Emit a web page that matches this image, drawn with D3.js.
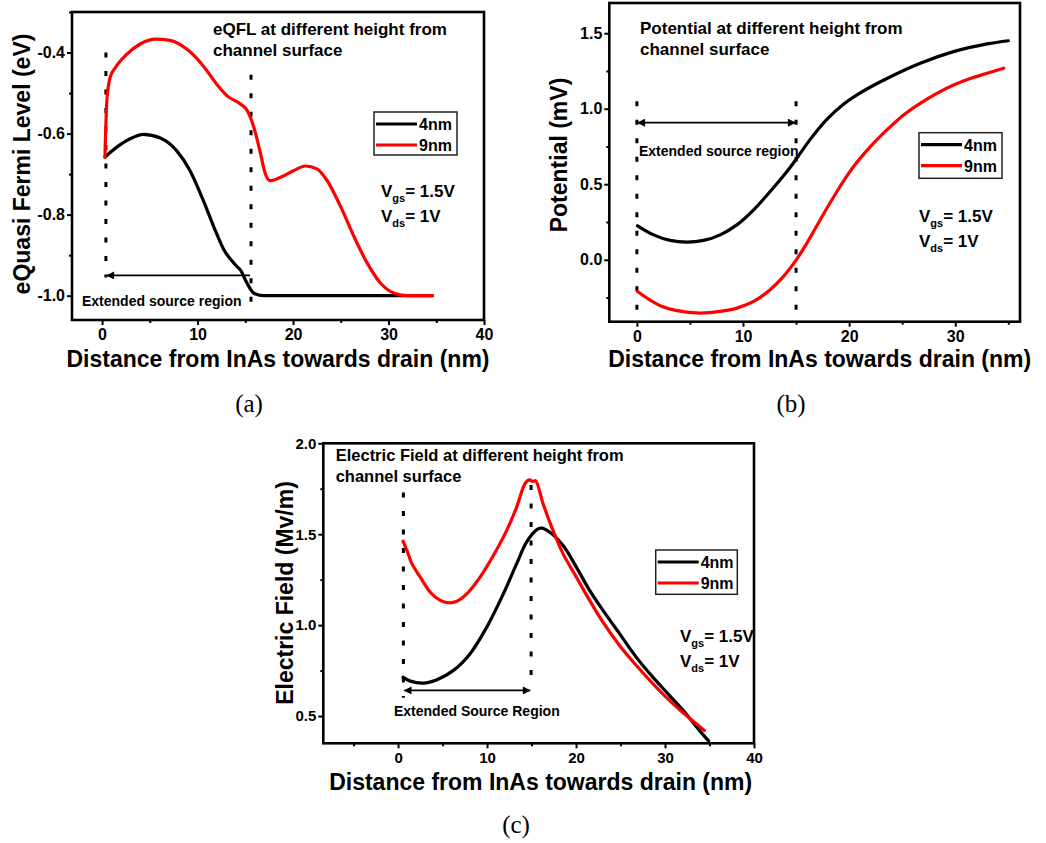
<!DOCTYPE html>
<html><head><meta charset="utf-8">
<script src="https://cdn.jsdelivr.net/npm/d3@7"></script>
<style>
body{margin:0;background:#fff;}
svg text{font-family:"Liberation Sans",Arial,sans-serif;font-weight:bold;fill:#000;}
</style></head><body>
<svg id="fig" width="1046" height="843"></svg>
<script>
// ---------- data ----------
const seriesNames = ["4nm", "9nm"];
const seriesColors = ["#000000", "#ff0000"];

// (a) eQuasi Fermi Level (eV) vs distance (nm)
const eqfl4nm = [[0.3,-0.658],[1.5,-0.634],[3.3,-0.609],[4.3,-0.602],[6.1,-0.611],[7.8,-0.642],[9.2,-0.691],[10.6,-0.765],[11.7,-0.83],[12.7,-0.884],[14.0,-0.925],[14.5,-0.937],[15.2,-0.970],[15.9,-0.994],[16.9,-1.0],[20,-1.0],[25,-1.0],[30,-1.0],[34.6,-1.0]];
const eqfl9nm = [[0.3,-0.658],[0.5,-0.519],[0.85,-0.461],[1.4,-0.437],[2.6,-0.404],[4.0,-0.379],[5.6,-0.367],[7.1,-0.370],[8.9,-0.392],[10.6,-0.433],[12.0,-0.478],[13.1,-0.507],[14.5,-0.527],[15.2,-0.543],[15.9,-0.585],[16.6,-0.65],[17.1,-0.699],[17.6,-0.716],[18.7,-0.708],[20.1,-0.691],[21.3,-0.680],[22.5,-0.687],[23.6,-0.717],[25.0,-0.781],[26.4,-0.855],[27.8,-0.921],[29.2,-0.970],[30.6,-0.994],[32.0,-1.0],[34.6,-1.0]];

// (b) Potential (mV)
const pot4nm = [[0.06,0.225],[1.57,0.165],[3.14,0.128],[4.71,0.117],[6.28,0.128],[7.85,0.165],[9.42,0.231],[11.0,0.331],[12.56,0.452],[14.14,0.584],[15.08,0.673],[16.33,0.797],[17.9,0.93],[19.47,1.03],[21.05,1.105],[23.56,1.20],[26.7,1.301],[29.84,1.378],[33.0,1.429],[35.0,1.45]];
const pot9nm = [[0.06,-0.21],[0.94,-0.253],[2.2,-0.304],[3.77,-0.337],[5.97,-0.353],[7.85,-0.342],[9.42,-0.32],[11.0,-0.276],[12.56,-0.198],[13.82,-0.11],[14.92,-0.011],[16.02,0.11],[17.28,0.265],[18.85,0.452],[20.42,0.617],[22.0,0.749],[23.56,0.86],[25.13,0.959],[26.7,1.036],[28.27,1.102],[29.84,1.157],[31.41,1.20],[33.0,1.235],[34.56,1.268]];

// (c) Electric Field (Mv/m)
const field4nm = [[0.56,0.714],[1.38,0.692],[2.87,0.681],[4.37,0.70],[6.23,0.751],[8.1,0.843],[9.97,0.989],[11.83,1.172],[13.32,1.337],[14.44,1.456],[15.56,1.524],[16.12,1.533],[17.05,1.511],[18.55,1.438],[20.04,1.319],[21.53,1.191],[23.03,1.081],[24.89,0.953],[26.76,0.824],[28.63,0.714],[30.49,0.614],[32.36,0.513],[33.86,0.421],[34.9,0.363]];
const field9nm = [[0.56,1.462],[1.0,1.41],[1.57,1.337],[2.5,1.264],[3.62,1.181],[4.74,1.136],[5.67,1.123],[6.6,1.131],[7.72,1.172],[9.22,1.264],[10.71,1.383],[12.2,1.52],[13.32,1.648],[14.25,1.777],[14.74,1.799],[15.15,1.79],[15.45,1.795],[16.3,1.667],[17.42,1.52],[18.55,1.392],[20.04,1.264],[21.53,1.136],[23.03,1.016],[24.89,0.888],[26.76,0.779],[28.63,0.678],[30.49,0.586],[32.36,0.504],[34.42,0.421]];

// ticks
const xTicksA = [0,10,20,30,40], xMinorA = [5,15,25,35];
const yTicksA = [-1.0,-0.8,-0.6,-0.4], yMinorA = [-0.9,-0.7,-0.5,-0.3];
const xTicksB = [0,10,20,30], xMinorB = [5,15,25,35];
const yTicksB = [0.0,0.5,1.0,1.5], yMinorB = [-0.25,0.25,0.75,1.25];
const xTicksC = [0,10,20,30,40], xMinorC = [-5,5,15,25,35];
const yTicksC = [0.5,1.0,1.5,2.0], yMinorC = [0.75,1.25,1.75];

// annotations (data units)
const regionA = {x0:0.4, x1:15.6, yArrow:-0.95, left:[-0.40,-0.955], right:[-0.455,-1.025]};
const regionB = {x0:0.0, x1:15.0, yArrow:0.908, left:[1.05,-0.35], right:[1.05,-0.35]};
const regionC = {x0:0.6, x1:14.95, yArrow:0.641, left:[1.73,0.60], right:[1.77,0.71]};

// ---------- drawing ----------
const svg = d3.select("#fig");
svg.append("rect").attr("width",1046).attr("height",843).attr("fill","#fff");

const defs = svg.append("defs");
defs.append("marker").attr("id","ah").attr("viewBox","0 0 10 10").attr("refX",9).attr("refY",5)
  .attr("markerWidth",10).attr("markerHeight",8).attr("markerUnits","userSpaceOnUse")
  .attr("orient","auto-start-reverse")
  .append("path").attr("d","M0,0 L10,5 L0,10 Z").attr("fill","#000");

const fmt1 = d => d.toFixed(1);

function panel(cfg){
  const g = svg.append("g");
  const x = d3.scaleLinear().domain(cfg.xDom).range([cfg.left, cfg.right]);
  const y = d3.scaleLinear().domain(cfg.yDom).range([cfg.bottom, cfg.top]);

  // axes
  const xa = g.append("g").attr("transform",`translate(0,${cfg.bottom})`)
    .call(d3.axisBottom(x).tickValues(cfg.xTicks).tickSize(5).tickPadding(4).tickFormat(d3.format("d")));
  const xm = g.append("g").attr("transform",`translate(0,${cfg.bottom})`)
    .call(d3.axisBottom(x).tickValues(cfg.xMinor).tickSize(3).tickFormat(""));
  const ya = g.append("g").attr("transform",`translate(${cfg.left},0)`)
    .call(d3.axisLeft(y).tickValues(cfg.yTicks).tickSize(5).tickPadding(2).tickFormat(fmt1));
  const ym = g.append("g").attr("transform",`translate(${cfg.left},0)`)
    .call(d3.axisLeft(y).tickValues(cfg.yMinor).tickSize(3).tickFormat(""));
  [xa,xm,ya,ym].forEach(a=>{
    a.select(".domain").remove();
    a.selectAll("line").attr("stroke","#000").attr("stroke-width",2);
    a.selectAll("text").attr("font-size",cfg.tickFont).attr("font-family","Liberation Sans, Arial, sans-serif").attr("font-weight","bold").attr("fill","#000");
  });

  // frame
  g.append("rect").attr("x",cfg.left).attr("y",cfg.top).attr("width",cfg.right-cfg.left).attr("height",cfg.bottom-cfg.top)
    .attr("fill","none").attr("stroke","#000").attr("stroke-width",2.6);

  // axis titles
  g.append("text").attr("x",(cfg.left+cfg.right)/2 + (cfg.xTitleDx||0)).attr("y",cfg.xTitleY).attr("text-anchor","middle")
    .attr("font-size",23).text(cfg.xTitle);
  g.append("text").attr("transform",`translate(${cfg.yTitleX},${cfg.yTitleCy}) rotate(-90)`).attr("text-anchor","middle")
    .attr("font-size",23).text(cfg.yTitle);

  // dotted region lines
  const r = cfg.region;
  const dots = (xv, ys) => g.append("line").attr("x1",x(xv)).attr("x2",x(xv)).attr("y1",y(ys[0])).attr("y2",y(ys[1]))
    .attr("stroke","#000").attr("stroke-width",3).attr("stroke-dasharray","5,13.5");
  dots(r.x0, r.left); dots(r.x1, r.right);
  const arr = g.append("line").attr("x1",x(r.x0)+1).attr("x2",x(r.x1)-1).attr("y1",y(r.yArrow)).attr("y2",y(r.yArrow))
    .attr("stroke","#000").attr("stroke-width",1.6).attr("marker-start","url(#ah)");
  if(cfg.doubleArrow) arr.attr("marker-end","url(#ah)");
  g.append("text").attr("x",cfg.regionText[0]).attr("y",cfg.regionText[1]).attr("font-size",14).text(cfg.regionLabel);

  // curves
  const line = d3.line().x(d=>x(d[0])).y(d=>y(d[1])).curve(cfg.curve);
  cfg.series.forEach((s,i)=>{
    g.append("path").datum(s).attr("d",line).attr("fill","none")
      .attr("stroke",seriesColors[i]).attr("stroke-width",3.2).attr("stroke-linejoin","round").attr("stroke-linecap","round");
  });

  // title annotation
  const t = g.append("text").attr("x",cfg.titlePos[0]).attr("y",cfg.titlePos[1]).attr("font-size",cfg.titleFont);
  t.append("tspan").attr("x",cfg.titlePos[0]).text(cfg.titleLines[0]);
  t.append("tspan").attr("x",cfg.titlePos[0]).attr("dy",21).text(cfg.titleLines[1]);

  // legend
  const L = cfg.legend;
  g.append("rect").attr("x",L.x).attr("y",L.y).attr("width",L.w).attr("height",L.h)
    .attr("fill","#fff").attr("stroke","#222").attr("stroke-width",1.5);
  seriesNames.forEach((n,i)=>{
    const ly = L.y + 12 + i*21;
    g.append("line").attr("x1",L.x+2).attr("x2",L.x+43).attr("y1",ly).attr("y2",ly)
      .attr("stroke",seriesColors[i]).attr("stroke-width",3.2);
    g.append("text").attr("x",L.x+45).attr("y",ly+6).attr("font-size",16).text(n);
  });

  // bias conditions
  const V = cfg.bias;
  const v1 = g.append("text").attr("x",V[0]).attr("y",V[1]).attr("font-size",17);
  v1.append("tspan").text("V");
  v1.append("tspan").attr("font-size",11).attr("dy",5).text("gs");
  v1.append("tspan").attr("dy",-5).text("= 1.5V");
  const v2 = g.append("text").attr("x",V[0]).attr("y",V[1]+25).attr("font-size",17);
  v2.append("tspan").text("V");
  v2.append("tspan").attr("font-size",11).attr("dy",5).text("ds");
  v2.append("tspan").attr("dy",-5).text("= 1V");

  // caption
  svg.append("text").attr("x",cfg.caption[0]).attr("y",cfg.caption[1]).attr("text-anchor","middle")
    .style("font-family","'Liberation Serif','Times New Roman',serif").style("font-weight","normal")
    .attr("font-size",25).text(cfg.caption[2]);
}

panel({
  left:72, right:484, top:12, bottom:320,
  xDom:[-3.15,40], yDom:[-1.06,-0.30],
  xTicks:xTicksA, xMinor:xMinorA, yTicks:yTicksA, yMinor:yMinorA, tickFont:16,
  xTitle:"Distance from InAs towards drain (nm)", xTitleY:366.5,
  yTitle:"eQuasi Fermi Level (eV)", yTitleX:29.5, yTitleCy:164,
  region:regionA, doubleArrow:false, regionText:[82,306], regionLabel:"Extended source region",
  series:[eqfl4nm, eqfl9nm], curve:d3.curveMonotoneX,
  titlePos:[213,35], titleFont:17, titleLines:["eQFL at different height from","channel surface"],
  legend:{x:374,y:112,w:83,h:43},
  bias:[381,197],
  caption:[249,412,"(a)"]
});

panel({
  left:609.3, right:1020, top:3, bottom:321.7,
  xDom:[-2.6,36.1], yDom:[-0.41,1.70],
  xTicks:xTicksB, xMinor:xMinorB, yTicks:yTicksB, yMinor:yMinorB, tickFont:16,
  xTitle:"Distance from InAs towards drain (nm)", xTitleY:366.5, xTitleDx:5,
  yTitle:"Potential (mV)", yTitleX:566.5, yTitleCy:155,
  region:regionB, doubleArrow:true, regionText:[639,156], regionLabel:"Extended source region",
  series:[pot4nm, pot9nm], curve:d3.curveCatmullRom.alpha(0.5),
  titlePos:[640,34], titleFont:17, titleLines:["Potential at different height from","channel surface"],
  legend:{x:919,y:132.7,w:83,h:45.6},
  bias:[919,222],
  caption:[791,412,"(b)"]
});

panel({
  left:323.3, right:754, top:443.3, bottom:743.3,
  xDom:[-8.4,40], yDom:[0.35,2.0],
  xTicks:xTicksC, xMinor:xMinorC, yTicks:yTicksC, yMinor:yMinorC, tickFont:15,
  xTitle:"Distance from InAs towards drain (nm)", xTitleY:790, xTitleDx:2,
  yTitle:"Electric Field (Mv/m)", yTitleX:293, yTitleCy:593,
  region:regionC, doubleArrow:true, regionText:[394,716], regionLabel:"Extended Source Region",
  series:[field4nm, field9nm], curve:d3.curveCatmullRom.alpha(0.5),
  titlePos:[335.7,461], titleFont:16.5, titleLines:["Electric Field at different height from","channel surface"],
  legend:{x:655.7,y:550,w:81.6,h:44.3},
  bias:[680,641.7],
  caption:[516,833,"(c)"]
});
</script>
</body></html>
